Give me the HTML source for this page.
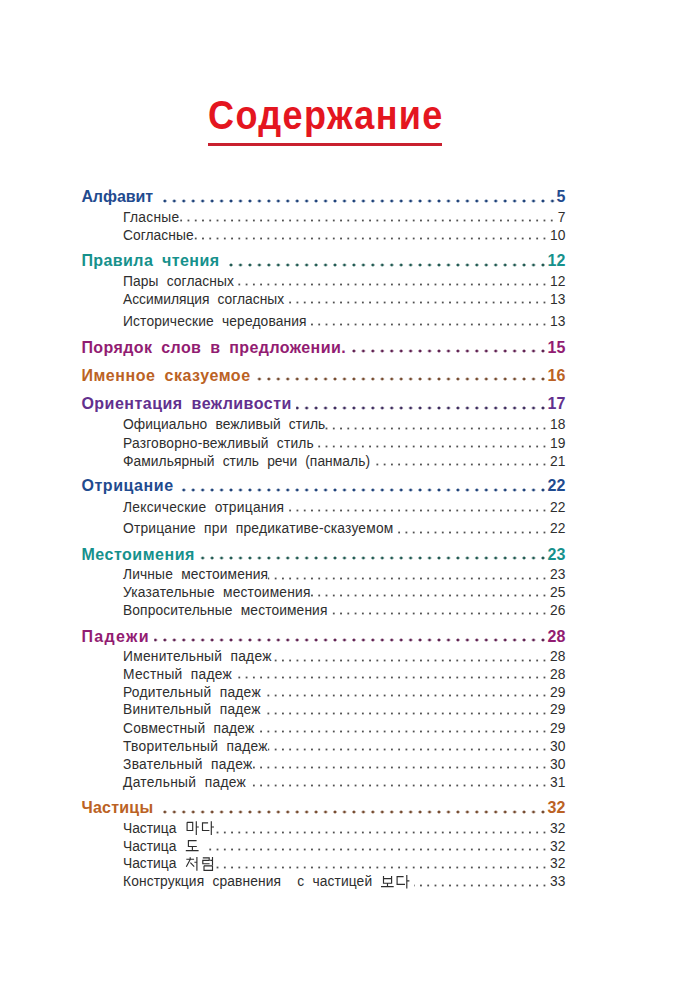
<!DOCTYPE html>
<html lang="ru"><head><meta charset="utf-8"><title>Содержание</title><style>
*{margin:0;padding:0;box-sizing:border-box}
html,body{width:682px;height:1000px;background:#fff;overflow:hidden}
body{position:relative;font-family:"Liberation Sans",sans-serif}
.title{position:absolute;left:0;top:0;white-space:pre;font-weight:700;color:#e4161f;font-size:40px;line-height:40px}
.rule{position:absolute;left:207.5px;top:142.5px;width:234.5px;height:3px;background:#c9202f}
.row{position:absolute;height:20px;line-height:20px;white-space:pre;right:116.70px}
.row.h{font-size:16px;font-weight:700}
.row.s{font-size:13.8px;font-weight:400}
.row .t{position:relative;background:#fff;z-index:1}
.row .n{position:absolute;right:0;top:0;background:#fff;padding-left:1.5px;z-index:1}
.row .ld{position:absolute;left:0;top:0;height:20px}
.row.s .ld{right:9.96px;background:radial-gradient(circle at 50% 50%, #505050 0.8px, rgba(80,80,80,0) 1.3px) right 11.48px/7.27px 3px repeat-x}
.row.h .ld{right:7.77px;background:radial-gradient(circle at 50% 50%, currentColor 1.2px, rgba(255,255,255,0) 1.75px) right 11.54px/9.46px 4px repeat-x}
.kor{position:absolute;left:0;top:0;z-index:2}
</style></head>
<body>
<div class='title' style='left:208.4px;top:94.94px;letter-spacing:1.55px;transform:scaleX(0.9);transform-origin:0 0'>Содержание</div>
<div class="rule"></div>
<div class='row h' style='top:187.26px;left:81.4px;color:#1f4b8f'><div class='ld' style='color:#1c4078'></div><span class='t' style='word-spacing:4.00px;letter-spacing:-0.071px;padding-right:4.5px'>Алфавит</span><span class='n'>5</span></div>
<div class='row s' style='top:207.72px;left:123.0px;color:#2e2e2e'><div class='ld'></div><span class='t' style='word-spacing:4.20px;letter-spacing:0.278px;padding-right:0px'>Гласные</span><span class='n'>7</span></div>
<div class='row s' style='top:225.72px;left:123.0px;color:#2e2e2e'><div class='ld'></div><span class='t' style='word-spacing:4.20px;letter-spacing:0.050px;padding-right:0px'>Согласные</span><span class='n'>10</span></div>
<div class='row h' style='top:251.06px;left:81.4px;color:#16918c'><div class='ld' style='color:#1f5850'></div><span class='t' style='word-spacing:4.00px;letter-spacing:0.414px;padding-right:4.5px'>Правила чтения</span><span class='n'>12</span></div>
<div class='row s' style='top:271.72px;left:123.0px;color:#2e2e2e'><div class='ld'></div><span class='t' style='word-spacing:4.20px;letter-spacing:0.090px;padding-right:4px'>Пары согласных</span><span class='n'>12</span></div>
<div class='row s' style='top:289.72px;left:123.0px;color:#2e2e2e'><div class='ld'></div><span class='t' style='word-spacing:4.20px;letter-spacing:0.002px;padding-right:4px'>Ассимиляция согласных</span><span class='n'>13</span></div>
<div class='row s' style='top:311.52px;left:123.0px;color:#2e2e2e'><div class='ld'></div><span class='t' style='word-spacing:4.20px;letter-spacing:0.134px;padding-right:4px'>Исторические чередования</span><span class='n'>13</span></div>
<div class='row h' style='top:337.86px;left:81.4px;color:#921c72'><div class='ld' style='color:#5e1f50'></div><span class='t' style='word-spacing:4.00px;letter-spacing:0.409px;padding-right:4.5px'>Порядок слов в предложении.</span><span class='n'>15</span></div>
<div class='row h' style='top:365.86px;left:81.4px;color:#bb6224'><div class='ld' style='color:#74492e'></div><span class='t' style='word-spacing:4.00px;letter-spacing:0.550px;padding-right:4.5px'>Именное сказуемое</span><span class='n'>16</span></div>
<div class='row h' style='top:394.06px;left:81.4px;color:#62308e'><div class='ld' style='color:#3c2a5c'></div><span class='t' style='word-spacing:4.00px;letter-spacing:0.484px;padding-right:4.5px'>Ориентация вежливости</span><span class='n'>17</span></div>
<div class='row s' style='top:415.12px;left:123.0px;color:#2e2e2e'><div class='ld'></div><span class='t' style='word-spacing:4.20px;letter-spacing:0.076px;padding-right:0px'>Официально вежливый стиль</span><span class='n'>18</span></div>
<div class='row s' style='top:433.52px;left:123.0px;color:#2e2e2e'><div class='ld'></div><span class='t' style='word-spacing:4.20px;letter-spacing:0.190px;padding-right:0px'>Разговорно-вежливый стиль</span><span class='n'>19</span></div>
<div class='row s' style='top:451.52px;left:123.0px;color:#2e2e2e'><div class='ld'></div><span class='t' style='word-spacing:4.20px;letter-spacing:0.052px;padding-right:4px'>Фамильярный стиль речи (панмаль)</span><span class='n'>21</span></div>
<div class='row h' style='top:476.46px;left:81.4px;color:#1f4b8f'><div class='ld' style='color:#1c4078'></div><span class='t' style='word-spacing:4.00px;letter-spacing:0.560px;padding-right:4.5px'>Отрицание</span><span class='n'>22</span></div>
<div class='row s' style='top:497.52px;left:123.0px;color:#2e2e2e'><div class='ld'></div><span class='t' style='word-spacing:4.20px;letter-spacing:0.246px;padding-right:4px'>Лексические отрицания</span><span class='n'>22</span></div>
<div class='row s' style='top:519.12px;left:123.0px;color:#2e2e2e'><div class='ld'></div><span class='t' style='word-spacing:4.20px;letter-spacing:0.204px;padding-right:4px'>Отрицание при предикативе-сказуемом</span><span class='n'>22</span></div>
<div class='row h' style='top:544.86px;left:81.4px;color:#16918c'><div class='ld' style='color:#1f5850'></div><span class='t' style='word-spacing:4.00px;letter-spacing:0.528px;padding-right:4.5px'>Местоимения</span><span class='n'>23</span></div>
<div class='row s' style='top:565.32px;left:123.0px;color:#2e2e2e'><div class='ld'></div><span class='t' style='word-spacing:4.20px;letter-spacing:0.138px;padding-right:0px'>Личные местоимения</span><span class='n'>23</span></div>
<div class='row s' style='top:582.72px;left:123.0px;color:#2e2e2e'><div class='ld'></div><span class='t' style='word-spacing:4.20px;letter-spacing:0.186px;padding-right:0px'>Указательные местоимения</span><span class='n'>25</span></div>
<div class='row s' style='top:600.72px;left:123.0px;color:#2e2e2e'><div class='ld'></div><span class='t' style='word-spacing:4.20px;letter-spacing:0.107px;padding-right:4px'>Вопросительные местоимения</span><span class='n'>26</span></div>
<div class='row h' style='top:626.66px;left:81.4px;color:#921c72'><div class='ld' style='color:#5e1f50'></div><span class='t' style='word-spacing:4.00px;letter-spacing:1.356px;padding-right:4.5px'>Падежи</span><span class='n'>28</span></div>
<div class='row s' style='top:647.12px;left:123.0px;color:#2e2e2e'><div class='ld'></div><span class='t' style='word-spacing:4.20px;letter-spacing:0.244px;padding-right:0px'>Именительный падеж</span><span class='n'>28</span></div>
<div class='row s' style='top:664.72px;left:123.0px;color:#2e2e2e'><div class='ld'></div><span class='t' style='word-spacing:4.20px;letter-spacing:0.253px;padding-right:4px'>Местный падеж</span><span class='n'>28</span></div>
<div class='row s' style='top:682.52px;left:123.0px;color:#2e2e2e'><div class='ld'></div><span class='t' style='word-spacing:4.20px;letter-spacing:0.253px;padding-right:4px'>Родительный падеж</span><span class='n'>29</span></div>
<div class='row s' style='top:700.12px;left:123.0px;color:#2e2e2e'><div class='ld'></div><span class='t' style='word-spacing:4.20px;letter-spacing:0.220px;padding-right:4px'>Винительный падеж</span><span class='n'>29</span></div>
<div class='row s' style='top:718.52px;left:123.0px;color:#2e2e2e'><div class='ld'></div><span class='t' style='word-spacing:4.20px;letter-spacing:0.192px;padding-right:4px'>Совместный падеж</span><span class='n'>29</span></div>
<div class='row s' style='top:736.72px;left:123.0px;color:#2e2e2e'><div class='ld'></div><span class='t' style='word-spacing:4.20px;letter-spacing:0.277px;padding-right:0px'>Творительный падеж</span><span class='n'>30</span></div>
<div class='row s' style='top:754.52px;left:123.0px;color:#2e2e2e'><div class='ld'></div><span class='t' style='word-spacing:4.20px;letter-spacing:0.299px;padding-right:0px'>Звательный падеж</span><span class='n'>30</span></div>
<div class='row s' style='top:772.52px;left:123.0px;color:#2e2e2e'><div class='ld'></div><span class='t' style='word-spacing:4.20px;letter-spacing:0.303px;padding-right:4px'>Дательный падеж</span><span class='n'>31</span></div>
<div class='row h' style='top:798.46px;left:81.4px;color:#bb6224'><div class='ld' style='color:#74492e'></div><span class='t' style='word-spacing:4.00px;letter-spacing:0.247px;padding-right:4.5px'>Частицы</span><span class='n'>32</span></div>
<div class='row s' style='top:819.12px;left:123.0px;color:#2e2e2e'><div class='ld'></div><span class='t' style='word-spacing:0.00px;letter-spacing:0.000px;padding-right:0px'>Частица<span style='display:inline-block;width:37.93px'></span></span><span class='n'>32</span></div>
<div class='row s' style='top:836.72px;left:123.0px;color:#2e2e2e'><div class='ld'></div><span class='t' style='word-spacing:0.00px;letter-spacing:0.000px;padding-right:6px'>Частица<span style='display:inline-block;width:22.43px'></span></span><span class='n'>32</span></div>
<div class='row s' style='top:854.32px;left:123.0px;color:#2e2e2e'><div class='ld'></div><span class='t' style='word-spacing:0.00px;letter-spacing:0.000px;padding-right:0px'>Частица<span style='display:inline-block;width:36.62px'></span></span><span class='n'>32</span></div>
<div class='row s' style='top:872.12px;left:123.0px;color:#2e2e2e'><div class='ld'></div><span class='t' style='word-spacing:4.20px;letter-spacing:0.107px;padding-right:4px'>Конструкция сравнения  с частицей<span style='display:inline-block;width:37.39px'></span></span><span class='n'>33</span></div>
<svg class='kor' width='682' height='1000' viewBox='0 0 682 1000'><path d='M187.1 822.3L192.7 822.3L192.7 830.5L187.1 830.5L187.1 822.3 M196.3 821.3L196.3 834.9 M196.3 827L198.8 827 M208.1 822.8L202.5 822.8L202.5 830.5L209.4 830.5 M211.3 821.3L211.3 834.9 M211.3 827L214 827 M196.6 840.6L188.4 840.6L188.4 846.5L196.8 846.5 M192.4 846.5L192.4 850.5 M185.8 850.6L198.6 850.6 M190.2 857.2L190.2 859.1 M186.3 859.2L194.1 859.2 M190.2 859.4L186.3 866.8 M190.4 862.6L194.2 866.6 M196.9 857.1L196.9 870.7 M194.4 862.2L196.9 862.2 M202.8 857.8L209.2 857.8L209.2 860.3L202.8 860.3L202.8 863.7L209.6 863.7 M212.5 857L212.5 865 M210.2 860.4L212.5 860.4 M204 865.8L212.5 865.8L212.5 870.4L204 870.4L204 865.8 M383.5 876L383.5 883.2L391.6 883.2L391.6 876 M383.5 878.6L391.6 878.6 M387.5 883.2L387.5 886.5 M381 886.6L393.7 886.6 M403.6 876.6L397.1 876.6L397.1 884.3L405 884.3 M406.8 875L406.8 888.6 M406.8 880.9L409.4 880.9' fill='none' stroke='#2e2e2e' stroke-width='1.15' stroke-linecap='butt' stroke-linejoin='miter'/></svg>
</body></html>
